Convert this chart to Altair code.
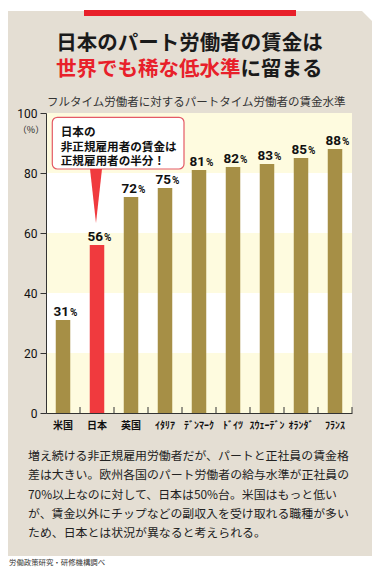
import altair as alt
import pandas as pd

# ---------------- data ----------------
countries = ["米国", "日本", "英国", "イタリア", "デンマーク", "ドイツ", "スウェーデン", "オランダ", "フランス"]
country_labels = ["米国", "日本", "英国", "ｲﾀﾘｱ", "ﾃﾞﾝﾏｰｸ", "ﾄﾞｲﾂ", "ｽｳｪｰﾃﾞﾝ", "ｵﾗﾝﾀﾞ", "ﾌﾗﾝｽ"]
values = [31, 56, 72, 75, 81, 82, 83, 85, 88]
y_ticks = [0, 20, 40, 60, 80, 100]
band_lo = [0, 40, 80]
band_hi = [20, 60, 100]

title_line1 = "日本のパート労働者の賃金は"
title_line2_red = "世界でも稀な低水準"
title_line2_black = "に留まる"
subtitle = "フルタイム労働者に対するパートタイム労働者の賃金水準"
callout = ["日本の", "非正規雇用者の賃金は", "正規雇用者の半分！"]
body = [
    "増え続ける非正規雇用労働者だが、パートと正社員の賃金格",
    "差は大きい。欧州各国のパート労働者の給与水準が正社員の",
    "70%以上なのに対して、日本は50%台。米国はもっと低い",
    "が、賃金以外にチップなどの副収入を受け取れる職種が多い",
    "ため、日本とは状況が異なると考えられる。",
]
source = "労働政策研究・研修機構調べ"
unit = "（%）"

# ---------------- styles ----------------
JP = "Noto Sans CJK JP"
NUM = "Roboto"
BEIGE = "#e4ded3"
YELLOW = "#fefbdf"
OLIVE = "#a68f46"
RED = "#f03a3e"
W, H = 306, 300
TFS = 20.5

df = pd.DataFrame({"country": countries, "value": values})
df["pct"] = "%"
bands = pd.DataFrame({"lo": band_lo, "hi": band_hi})
one = pd.DataFrame({"k": [0]})

label_expr = "[" + ",".join(f"'{s}'" for s in country_labels) + "][indexof([" + \
    ",".join(f"'{s}'" for s in countries) + "], datum.value)]"

xscale = alt.Scale(domain=countries, paddingInner=0, paddingOuter=0)
yscale = alt.Scale(domain=[0, 100], nice=False)

x_enc = alt.X("country:N", scale=xscale, sort=None,
              axis=alt.Axis(title=None, ticks=False, labelAngle=0, labelFont=JP,
                            labelFontSize=10, labelFontWeight="bold", labelColor="#111",
                            labelPadding=7, domainColor="#333", labelExpr=label_expr,
                            zindex=2))
y_enc = alt.Y("value:Q", scale=yscale,
              axis=alt.Axis(title=None, values=y_ticks, grid=False, tickSize=6,
                            tickColor="#333", domainColor="#333", labelPadding=3,
                            labelFont=NUM, labelFontSize=12, labelColor="#111",
                            zindex=2))


def rect_px(x, x2, y, y2, **kw):
    return alt.Chart(one).mark_rect(**kw).encode(
        x=alt.value(x), x2=alt.value(x2), y=alt.value(y), y2=alt.value(y2))


def text_px(x, y, text, **kw):
    return alt.Chart(one).mark_text(text=text, font=JP, **kw).encode(
        x=alt.value(x), y=alt.value(y))


# background panel
panel = rect_px(-40, 326, -102, 443, color=BEIGE)
corner = alt.Chart(one).mark_point(shape="M-1,-1L1,-1L1,1Z", size=144, filled=True,
                                   color="white", opacity=1, strokeWidth=0).encode(
    x=alt.value(321), y=alt.value(-97))
topbar = rect_px(38, 250, -103, -97, color="#e8202a")
plotbg = rect_px(0, W, 0, H, color="white")

band_layer = alt.Chart(bands).mark_rect(color=YELLOW).encode(
    y=alt.Y("lo:Q", scale=yscale), y2="hi:Q", x=alt.value(0), x2=alt.value(W))

bars = alt.Chart(df).mark_bar(size=14.5).encode(
    x=x_enc, y=y_enc,
    color=alt.condition(alt.datum.country == "日本", alt.value(RED), alt.value(OLIVE)))

xticks = alt.Chart(df).mark_rule(color="#333", strokeWidth=1).encode(
    x=alt.X("country:N", scale=xscale, sort=None, bandPosition=1),
    y=alt.value(H), y2=alt.value(H - 6))

num_labels = alt.Chart(df).mark_text(font=NUM, fontSize=13.5, fontWeight="bold",
                                     align="right", baseline="alphabetic", dx=6, dy=-4,
                                     color="#111").encode(
    x=alt.X("country:N", scale=xscale, sort=None),
    y=alt.Y("value:Q", scale=yscale), text="value:Q")
pct_labels = alt.Chart(df).mark_text(font=NUM, fontSize=10, fontWeight="bold",
                                     align="left", baseline="alphabetic", dx=7, dy=-4,
                                     color="#111").encode(
    x=alt.X("country:N", scale=xscale, sort=None),
    y=alt.Y("value:Q", scale=yscale), text="pct:N")

box = rect_px(6.3, 138, 4.3, 56, fill="white", stroke="#e45a66", strokeWidth=1.2,
              cornerRadius=5)
pointer = alt.Chart(one).mark_point(shape="M-0.222,-1L0.222,-1L0,1Z", size=2916,
                                    filled=True, color=RED, opacity=1,
                                    strokeWidth=0).encode(
    x=alt.value(50), y=alt.value(83))
callout_text = text_px(14.7, 14, callout, fontSize=11.6, fontWeight="bold",
                       align="left", baseline="top", lineHeight=14.5, color="#111")

unit_text = text_px(-15, 17, unit, fontSize=9, align="center", baseline="middle",
                    color="#222")

t1 = text_px(143.5, -69.5, title_line1, fontSize=TFS, fontWeight="bold",
             align="center", baseline="middle", color="#1a1a1a")
t2a = text_px(10, -43.5, title_line2_red, fontSize=TFS, fontWeight="bold",
              align="left", baseline="middle", color="#e8202a")
t2b = text_px(10 + 9 * TFS, -43.5, title_line2_black, fontSize=TFS, fontWeight="bold",
              align="left", baseline="middle", color="#1a1a1a")
sub = text_px(1, -10.5, subtitle, fontSize=11.5, align="left", baseline="middle",
              color="#333")
body_text = text_px(-18, 338, body, fontSize=11.9, align="left", baseline="top",
                    lineHeight=19.3, color="#222")
src = text_px(-37, 450, source, fontSize=7.4, align="left", baseline="middle",
              color="#333")

chart = alt.layer(
    panel, corner, topbar, plotbg, band_layer, bars, xticks, num_labels, pct_labels,
    box, pointer, callout_text, unit_text, t1, t2a, t2b, sub, body_text, src
).properties(
    width=W, height=H,
    autosize=alt.AutoSizeParams(type="none"),
    padding={"left": 38, "top": 105, "right": 20, "bottom": 155},
    background="white",
).configure_view(stroke=None)

chart.save("out.html", embed_options={"renderer": "svg", "actions": False})
